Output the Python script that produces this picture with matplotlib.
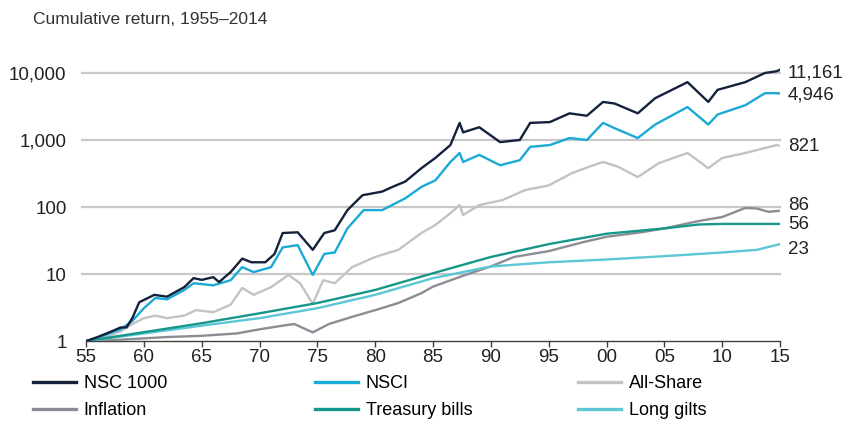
import matplotlib
matplotlib.use("Agg")
import matplotlib.pyplot as plt
from matplotlib.ticker import FixedLocator, NullLocator

plt.rcParams["font.family"] = ["Liberation Sans", "DejaVu Sans"]

# NSC 1000
nsc_years = [1955, 1956, 1957, 1958, 1958.5, 1959, 1959.6, 1960.9, 1962, 1963.5, 1964.3, 1965,
             1966, 1966.5, 1967.5, 1968.5, 1969.3, 1970.5, 1971.3, 1972, 1973.3, 1974.6, 1975.6,
             1976.5, 1977.6, 1978.9, 1980.6, 1981.5, 1982.6, 1984, 1985.2, 1986.5, 1987.3, 1987.6,
             1989, 1990.8, 1992.5, 1993.4, 1995.1, 1996.8, 1998.3, 1999.7, 2000.7, 2002.7, 2004.2,
             2007, 2008.8, 2009.6, 2012, 2013.7, 2014.7, 2015]
nsc_vals = [1, 1.15, 1.35, 1.6, 1.6, 2.2, 3.8, 4.9, 4.6, 6.4, 8.7, 8.2,
            9, 7.6, 10.7, 17, 15, 15, 20, 41, 42, 23, 41,
            45, 90, 150, 170, 200, 240, 380, 540, 840, 1800, 1300,
            1550, 930, 1000, 1800, 1850, 2500, 2300, 3700, 3500, 2500, 4200,
            7300, 3700, 5600, 7300, 10000, 10600, 11161]

# NSCI
nsci_years = [1955, 1956, 1957, 1958, 1959, 1960, 1961, 1962, 1963.5, 1964.3, 1966, 1967.5,
              1968.5, 1969.5, 1971, 1972, 1973.3, 1974.6, 1975.6, 1976.5, 1977.6, 1979, 1980.6,
              1982.6, 1984, 1985.2, 1986.5, 1987.3, 1987.6, 1989, 1990.8, 1992.5, 1993.4, 1995.1,
              1996.8, 1998.3, 1999.7, 2000.7, 2002.7, 2004.2, 2007, 2008.8, 2009.6, 2012, 2013.7,
              2014.7, 2015]
nsci_vals = [1, 1.12, 1.3, 1.5, 2.0, 3.1, 4.4, 4.2, 5.8, 7.3, 6.8, 8.1,
             12.7, 10.7, 12.7, 25, 27, 9.7, 20, 21, 48, 90, 90,
             135, 200, 250, 470, 640, 470, 600, 420, 500, 790, 840,
             1070, 1000, 1800, 1500, 1070, 1700, 3100, 1700, 2400, 3300, 5000,
             5000, 4946]

# All-Share
all_years = [1955, 1956, 1957, 1958, 1959, 1960, 1961, 1962, 1963.5, 1964.5, 1966, 1967.5,
             1968.5, 1969.5, 1971, 1972.5, 1973.5, 1974.6, 1975.5, 1976.5, 1978, 1980, 1982,
             1984, 1985.2, 1986.5, 1987.3, 1987.6, 1989, 1991, 1993, 1995, 1997, 1998.5, 1999.7,
             2001, 2002.7, 2004.5, 2007, 2008.8, 2010, 2012, 2014.7, 2015]
all_vals = [1, 1.05, 1.2, 1.4, 1.8, 2.2, 2.4, 2.2, 2.4, 2.9, 2.7, 3.5,
            6.2, 4.9, 6.4, 9.7, 7.3, 3.6, 8.1, 7.3, 12.7, 18, 23,
            41, 54, 81, 107, 76, 107, 127, 180, 210, 320, 400, 470,
            400, 280, 450, 640, 380, 540, 640, 840, 821]

# Inflation
inf_years = [1955, 1958, 1960, 1962, 1965, 1968, 1970, 1972, 1973, 1974.6, 1976, 1978, 1980,
             1982, 1984, 1985, 1988, 1990, 1992, 1995, 1998, 2000, 2003, 2005, 2008, 2010,
             2012, 2013, 2014, 2015]
inf_vals = [1, 1.05, 1.1, 1.15, 1.2, 1.3, 1.5, 1.7, 1.8, 1.35, 1.8, 2.3, 2.9,
            3.7, 5.2, 6.5, 10, 13, 18, 22, 30, 36, 42, 48, 62, 71,
            97, 95, 85, 88]

# Treasury bills
tb_years = [1955, 1960, 1965, 1970, 1975, 1980, 1985, 1990, 1995, 2000, 2005, 2008, 2010, 2015]
tb_vals = [1, 1.36, 1.85, 2.6, 3.7, 5.8, 10.3, 18, 28, 40, 48, 55, 56, 56]

# Long gilts
lg_years = [1955, 1960, 1965, 1970, 1975, 1980, 1985, 1990, 1995, 2000, 2005, 2010, 2013, 2015]
lg_vals = [1, 1.3, 1.7, 2.2, 3.1, 4.9, 8.7, 13, 15, 16.5, 18.5, 21, 23, 28]

end_labels = ["11,161", "4,946", "821", "86", "56", "23"]
end_label_y = [10000, 4700, 790, 107, 54, 23]

y_ticks = [1, 10, 100, 1000, 10000]
y_ticklabels = ["1", "10", "100", "1,000", "10,000"]
x_ticks = list(range(1955, 2016, 5))
x_ticklabels = ["55", "60", "65", "70", "75", "80", "85", "90", "95", "00", "05", "10", "15"]

fig = plt.figure(figsize=(8.46, 4.28), dpi=100)
ax = fig.add_axes([0.1017, 0.203, 0.8203, 0.650])

ax.set_yscale("log")
ax.set_xlim(1955, 2015)
ax.set_ylim(1, 10 ** 4.15)

for y in y_ticks[1:]:
    ax.axhline(y, color="#c8c8c8", lw=1.6, zorder=1, xmin=-0.006, clip_on=False)

l_inf, = ax.plot(inf_years, inf_vals, color="#8c8c94", lw=1.7, zorder=3)
l_lg, = ax.plot(lg_years, lg_vals, color="#5cc6d6", lw=1.7, zorder=3)
l_tb, = ax.plot(tb_years, tb_vals, color="#17978a", lw=1.7, zorder=4)
l_all, = ax.plot(all_years, all_vals, color="#c3c3c3", lw=1.7, zorder=3)
l_nsci, = ax.plot(nsci_years, nsci_vals, color="#1ba9d6", lw=1.7, zorder=5)
l_nsc, = ax.plot(nsc_years, nsc_vals, color="#13213b", lw=1.7, zorder=6)

for s in ["top", "right", "left"]:
    ax.spines[s].set_visible(False)
ax.spines["bottom"].set_color("#404040")
ax.spines["bottom"].set_linewidth(1.0)

ax.yaxis.set_major_locator(FixedLocator(y_ticks))
ax.yaxis.set_minor_locator(NullLocator())
ax.set_yticklabels(y_ticklabels)
ax.tick_params(axis="y", length=0, pad=14, labelsize=13.5, colors="#222222")
ax.set_xticks(x_ticks)
ax.set_xticklabels(x_ticklabels)
ax.tick_params(axis="x", length=4, width=1, color="#404040", pad=2, labelsize=13.5, colors="#222222")

for lab, yv in zip(end_labels, end_label_y):
    ax.text(2015.7, yv, lab, ha="left", va="center", fontsize=13.5, color="#222222", clip_on=False)

fig.text(33 / 846, 1 - 19 / 428, "Cumulative return, 1955\u20132014", ha="left", va="center",
         fontsize=12.5, color="#333333")

groups = [([l_nsc, l_inf], ["NSC 1000", "Inflation"], 33),
          ([l_nsci, l_tb], ["NSCI", "Treasury bills"], 315),
          ([l_all, l_lg], ["All-Share", "Long gilts"], 578)]
for handles, labels, xpx in groups:
    leg = fig.legend(handles, labels, loc="upper left", bbox_to_anchor=(xpx / 846, 1 - 375 / 428),
                     frameon=False, fontsize=13, handlelength=2.4, handletextpad=0.4,
                     labelspacing=0.55, borderaxespad=0, borderpad=0)
    for line in leg.get_lines():
        line.set_linewidth(2.4)

fig.savefig("out.png", dpi=100)
